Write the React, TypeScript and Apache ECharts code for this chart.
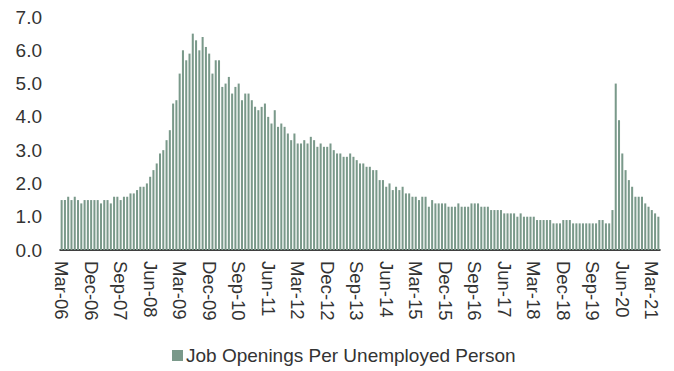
import React, { useEffect, useRef } from "react";
import * as echarts from "echarts";

const START_YEAR = 2006;
const START_MONTH = 2; // March (0-based)
const MONTH_NAMES = ["Jan", "Feb", "Mar", "Apr", "May", "Jun", "Jul", "Aug", "Sep", "Oct", "Nov", "Dec"];

const values2006_2008: number[] = [
  1.5, 1.5, 1.6, 1.5, 1.6, 1.5, 1.4, 1.5, 1.5, 1.5, 1.5, 1.5,
  1.4, 1.5, 1.5, 1.4, 1.6, 1.6, 1.5, 1.6, 1.6, 1.7, 1.7, 1.8,
  1.9, 1.9, 2.0, 2.2, 2.4, 2.6, 2.9, 3.0, 3.3, 3.6, 4.4, 4.5,
];
const values2009_2011: number[] = [
  5.3, 6.0, 5.7, 5.9, 6.5, 6.3, 6.0, 6.4, 6.1, 5.9, 5.3, 5.7,
  5.7, 4.9, 5.0, 5.2, 4.7, 4.9, 5.0, 4.5, 4.7, 4.7, 4.5, 4.3,
  4.2, 4.3, 4.4, 4.0, 3.8, 4.2, 3.7, 3.8, 3.7, 3.5, 3.3, 3.5,
];
const values2012_2014: number[] = [
  3.2, 3.2, 3.3, 3.2, 3.4, 3.3, 3.1, 3.2, 3.1, 3.1, 3.2, 3.0,
  2.9, 2.9, 2.8, 2.8, 2.9, 2.8, 2.7, 2.6, 2.6, 2.5, 2.5, 2.4,
  2.4, 2.1, 2.1, 1.9, 2.0, 1.8, 1.9, 1.8, 1.9, 1.7, 1.7, 1.6,
];
const values2015_2017: number[] = [
  1.6, 1.5, 1.6, 1.6, 1.3, 1.5, 1.4, 1.4, 1.4, 1.4, 1.3, 1.3,
  1.3, 1.4, 1.3, 1.3, 1.3, 1.4, 1.4, 1.4, 1.3, 1.3, 1.3, 1.2,
  1.2, 1.2, 1.2, 1.1, 1.1, 1.1, 1.1, 1.0, 1.1, 1.0, 1.0, 1.0,
];
const values2018_2021: number[] = [
  1.0, 0.9, 0.9, 0.9, 0.9, 0.9, 0.8, 0.8, 0.8, 0.9, 0.9, 0.9,
  0.8, 0.8, 0.8, 0.8, 0.8, 0.8, 0.8, 0.8, 0.9, 0.9, 0.8, 0.8,
  1.2, 5.0, 3.9, 2.9, 2.4, 2.1, 1.9, 1.6, 1.6, 1.6, 1.4, 1.3,
  1.2, 1.1, 1.0,
];

const values: number[] = [
  ...values2006_2008,
  ...values2009_2011,
  ...values2012_2014,
  ...values2015_2017,
  ...values2018_2021,
];

const categories: string[] = values.map((_, i) => {
  const m = START_MONTH + i;
  const y = START_YEAR + Math.floor(m / 12);
  return `${MONTH_NAMES[m % 12]}-${String(y % 100).padStart(2, "0")}`;
});

const SERIES_NAME = "Job Openings Per Unemployed Person";
const BAR_COLOR = "#7a998a";
const TEXT_COLOR = "#333333";
const FONT = "Liberation Sans, Arial, sans-serif";

export default function App() {
  const ref = useRef<HTMLDivElement>(null);
  useEffect(() => {
    document.body.style.margin = "0";
    if (!ref.current) return;
    const chart = echarts.init(ref.current, undefined, { renderer: "svg" });
    chart.setOption({
      animation: false,
      textStyle: { fontFamily: FONT },
      grid: { left: 60, right: 14, top: 17, bottom: 121, containLabel: false },
      legend: {
        top: 346,
        left: 172,
        padding: 0,
        icon: "rect",
        itemWidth: 11,
        itemHeight: 11,
        textStyle: { fontSize: 19, color: TEXT_COLOR, fontFamily: FONT, padding: [0, 0, 0, -2] },
        data: [SERIES_NAME],
      },
      xAxis: {
        type: "category",
        data: categories,
        axisLine: { show: true, lineStyle: { color: "#000", width: 1.5 } },
        axisTick: { show: false },
        axisLabel: {
          interval: 8,
          rotate: -90,
          margin: 11,
          fontSize: 18.5,
          color: TEXT_COLOR,
          fontFamily: FONT,
        },
        splitLine: { show: false },
      },
      yAxis: {
        type: "value",
        min: 0,
        max: 7,
        interval: 1,
        axisLine: { show: false },
        axisTick: { show: false },
        splitLine: { show: false },
        axisLabel: {
          formatter: (v: number) => v.toFixed(1),
          fontSize: 19,
          color: TEXT_COLOR,
          margin: 18,
          fontFamily: FONT,
        },
      },
      series: [
        {
          name: SERIES_NAME,
          type: "bar",
          data: values,
          itemStyle: { color: BAR_COLOR },
          barCategoryGap: "38%",
        },
      ],
    });
    return () => chart.dispose();
  }, []);
  return <div ref={ref} style={{ width: 674, height: 371 }} />;
}
